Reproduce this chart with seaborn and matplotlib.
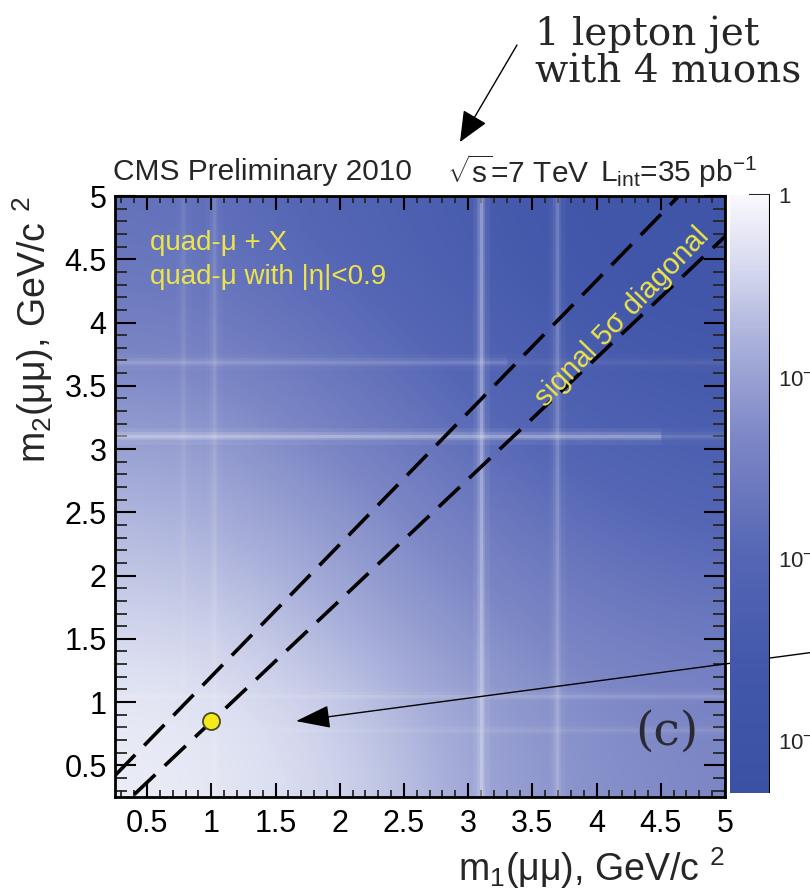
import numpy as np
import pandas as pd
import seaborn as sns
import matplotlib
matplotlib.use("Agg")
import matplotlib.pyplot as plt
from matplotlib.colors import LinearSegmentedColormap, Normalize

# ---------------- data ----------------
# grid node centres (GeV/c^2)
m_nodes = [0.5, 1.0, 1.5, 2.0, 2.5, 3.0, 3.5, 4.0, 4.5, 5.0]
# log10 of density (colour scale), rows = m2 (bottom->top), cols = m1 (left->right)
log10_density = [
    [-0.17, -0.23, -0.33, -0.46, -0.66, -0.92, -1.09, -1.22, -1.29, -1.35],
    [-0.23, -0.30, -0.40, -0.56, -0.76, -0.99, -1.16, -1.29, -1.35, -1.42],
    [-0.40, -0.46, -0.59, -0.76, -0.96, -1.16, -1.32, -1.45, -1.52, -1.58],
    [-0.59, -0.66, -0.79, -0.96, -1.16, -1.35, -1.52, -1.65, -1.75, -1.82],
    [-0.76, -0.86, -0.99, -1.16, -1.35, -1.55, -1.72, -1.88, -1.98, -2.05],
    [-0.99, -1.06, -1.22, -1.39, -1.58, -1.78, -1.95, -2.11, -2.21, -2.28],
    [-1.25, -1.32, -1.45, -1.62, -1.78, -1.98, -2.18, -2.31, -2.41, -2.48],
    [-1.49, -1.55, -1.68, -1.82, -1.98, -2.18, -2.38, -2.51, -2.61, -2.64],
    [-1.65, -1.72, -1.85, -1.98, -2.15, -2.34, -2.51, -2.64, -2.71, -2.74],
    [-1.75, -1.82, -1.95, -2.08, -2.24, -2.41, -2.57, -2.71, -2.77, -2.81],
]
# resonance bands (bright stripes)
res_m1 = [0.78, 1.02, 3.10, 3.69]
res_m1_strength = [0.15, 0.22, 0.60, 0.35]
res_m2 = [0.78, 1.05, 3.10, 3.69]
res_m2_strength = [0.18, 0.28, 0.65, 0.30]
res_m2_reach = [5.0, 5.0, 4.5, 3.3]   # how far along m1 the horizontal stripe is strong
# 5-sigma diagonal band edges
upper_m1 = [0.25, 4.64]
upper_m2 = [0.42, 5.00]
lower_m1 = [0.40, 5.00]
lower_m2 = [0.27, 4.68]
# observed event
event_m1 = [1.00]
event_m2 = [0.85]

x_ticks = [0.5, 1, 1.5, 2, 2.5, 3, 3.5, 4, 4.5, 5]
x_ticklabels = ["0.5", "1", "1.5", "2", "2.5", "3", "3.5", "4", "4.5", "5"]
cbar_ticks = [-3, -2, -1, 0]
cbar_ticklabels = ["$\\mathregular{10^{-3}}$", "$\\mathregular{10^{-2}}$",
                   "$\\mathregular{10^{-1}}$", "1"]

# ---------------- style ----------------
sns.set_theme(style="ticks")
plt.rcParams["font.family"] = ["Liberation Sans", "DejaVu Sans"]
plt.rcParams["mathtext.fontset"] = "custom"
plt.rcParams["mathtext.rm"] = "Liberation Sans"
plt.rcParams["mathtext.it"] = "Liberation Sans:italic"
plt.rcParams["mathtext.bf"] = "Liberation Sans:bold"

cmap = LinearSegmentedColormap.from_list(
    "cmsblue",
    [(0.0, "#3a51a4"), (0.2, "#4257aa"), (0.4, "#5566b5"), (0.6, "#7e88c6"),
     (0.75, "#a8afda"), (0.9, "#dcdff1"), (1.0, "#f8f8fc")])
vmin, vmax = -3.3, 0.0
norm = Normalize(vmin=vmin, vmax=vmax)

fig = plt.figure(figsize=(8.1, 8.89), dpi=100)
fig.patch.set_facecolor("white")
ax = fig.add_axes([115 / 810, 92 / 889, 610 / 810, 601 / 889])
cax = fig.add_axes([730 / 810, 96 / 889, 40 / 810, 598 / 889])

grid = np.array(log10_density)
step = m_nodes[1] - m_nodes[0]
ext = [m_nodes[0] - step / 2, m_nodes[-1] + step / 2,
       m_nodes[0] - step / 2, m_nodes[-1] + step / 2]
im = ax.imshow(grid, origin="lower", extent=ext, cmap=cmap, norm=norm,
               interpolation="bicubic", aspect="auto", zorder=0)

xlo, xhi = 0.25, 5.0
# resonance stripes (soft, layered)
layers = [(12, 0.10), (6, 0.22), (2.5, 0.40)]
for m, s in zip(res_m1, res_m1_strength):
    for lw, a in layers:
        ax.axvline(m, color="white", lw=lw, alpha=s * a, zorder=1,
                   solid_capstyle="butt")
for m, s, r in zip(res_m2, res_m2_strength, res_m2_reach):
    frac = (r - xlo) / (xhi - xlo)
    for lw, a in layers:
        # faint over the whole range, stronger where it is clearly seen
        ax.axhline(m, color="white", lw=lw, alpha=s * a * 0.35, zorder=1,
                   solid_capstyle="butt")
        ax.axhline(m, xmax=frac, color="white", lw=lw, alpha=s * a * 0.65,
                   zorder=1, solid_capstyle="butt")

# diagonal band
sns.lineplot(x=upper_m1, y=upper_m2, ax=ax, color="black", lw=2.6,
             linestyle=(0, (8, 3.6)), zorder=3)
sns.lineplot(x=lower_m1, y=lower_m2, ax=ax, color="black", lw=2.6,
             linestyle=(0, (8, 3.6)), zorder=3)

sns.scatterplot(x=event_m1, y=event_m2, ax=ax, s=150, color="#f4ea1c",
                edgecolor="#4a4a20", linewidth=1.3, zorder=5)

ax.set_xlim(xlo, xhi)
ax.set_ylim(0.25, 5.0)
ax.set_xticks(x_ticks)
ax.set_xticklabels(x_ticklabels)
ax.set_yticks(x_ticks)
ax.set_yticklabels(x_ticklabels)
ax.set_xticks(np.arange(0.3, 5.01, 0.1), minor=True)
ax.set_yticks(np.arange(0.3, 5.01, 0.1), minor=True)
ax.tick_params(axis="x", which="major", direction="in", top=True, bottom=True,
               length=10, width=1.5, labelsize=22, pad=9, colors="black")
ax.tick_params(axis="x", which="minor", direction="in", top=True, bottom=True,
               length=5, width=1.3)
ax.tick_params(axis="y", which="major", direction="in", left=True, right=True,
               length=15, width=1.5, labelsize=22, pad=6, colors="black")
ax.tick_params(axis="y", which="minor", direction="in", left=True, right=True,
               length=8.5, width=1.3)
for sp in ax.spines.values():
    sp.set_linewidth(2.0)
    sp.set_color("black")
    sp.set_zorder(6)

ax.set_xlabel("m$_\\mathregular{1}$(μμ), GeV/c $^\\mathregular{2}$", fontsize=27,
              loc="right", labelpad=4)
ax.set_ylabel("m$_\\mathregular{2}$(μμ), GeV/c $^\\mathregular{2}$", fontsize=27,
              loc="top", labelpad=6)

# in-plot texts
ax.text(0.52, 4.63, "quad-μ + X", color="#ece44a", fontsize=20,
        ha="left", va="center", zorder=4)
ax.text(0.52, 4.36, "quad-μ with |η|<0.9", color="#ece44a", fontsize=20,
        ha="left", va="center", zorder=4)
ax.text(4.2, 4.04, "signal 5σ diagonal", color="#ece44a", fontsize=21,
        rotation=46, ha="center", va="center", rotation_mode="anchor", zorder=4)
ax.text(4.55, 0.76, "(c)", color="#2a2a35", fontsize=34, family="DejaVu Serif",
        ha="center", va="center", zorder=4)

# header
fig.text(113 / 810, 1 - 172 / 889, "CMS Preliminary 2010", fontsize=21.5,
         ha="left", va="center")
fig.text(447 / 810, 1 - 172 / 889, "$\\sqrt{\\mathregular{s}}$=7 TeV", fontsize=21.5,
         ha="left", va="center")
fig.text(600 / 810, 1 - 172 / 889,
         "L$_\\mathregular{int}$=35 pb$^\\mathregular{-1}$", fontsize=21.5,
         ha="left", va="center")

# annotation at top
fig.text(535 / 810, 1 - 53 / 889, "1 lepton jet\nwith 4 muons", fontsize=28,
         family="DejaVu Serif", ha="left", va="center", linespacing=1.0)
ax.annotate("", xy=(460 / 810, 1 - 142 / 889), xycoords="figure fraction",
            xytext=(517 / 810, 1 - 45 / 889), textcoords="figure fraction",
            arrowprops=dict(arrowstyle="-|>,head_length=1.6,head_width=0.7",
                            color="black", lw=1.0, shrinkA=0, shrinkB=0),
            annotation_clip=False)
ax.annotate("", xy=(1.66, 0.85), xycoords="data",
            xytext=(830 / 810, 1 - 650 / 889), textcoords="figure fraction",
            arrowprops=dict(arrowstyle="-|>,head_length=1.8,head_width=0.6",
                            color="black", lw=1.0, shrinkA=0, shrinkB=0),
            annotation_clip=False, zorder=7)

# colour bar
cb = fig.colorbar(im, cax=cax)
cb.outline.set_visible(False)
cax.set_yticks(cbar_ticks)
cax.set_yticklabels(cbar_ticklabels)
minor = [np.log10(k) + e for e in (-4, -3, -2, -1) for k in range(2, 10)
         if vmin <= np.log10(k) + e <= vmax]
cax.set_yticks(minor, minor=True)
cax.tick_params(axis="y", which="major", direction="in", right=True, left=False,
                length=15, width=1.5, labelsize=16, pad=6)
cax.tick_params(axis="y", which="minor", direction="in", right=True, left=False,
                length=9, width=1.3)
cax.axvline(1.0, color="black", lw=1.5)

fig.savefig("out.png", dpi=100, facecolor="white")
